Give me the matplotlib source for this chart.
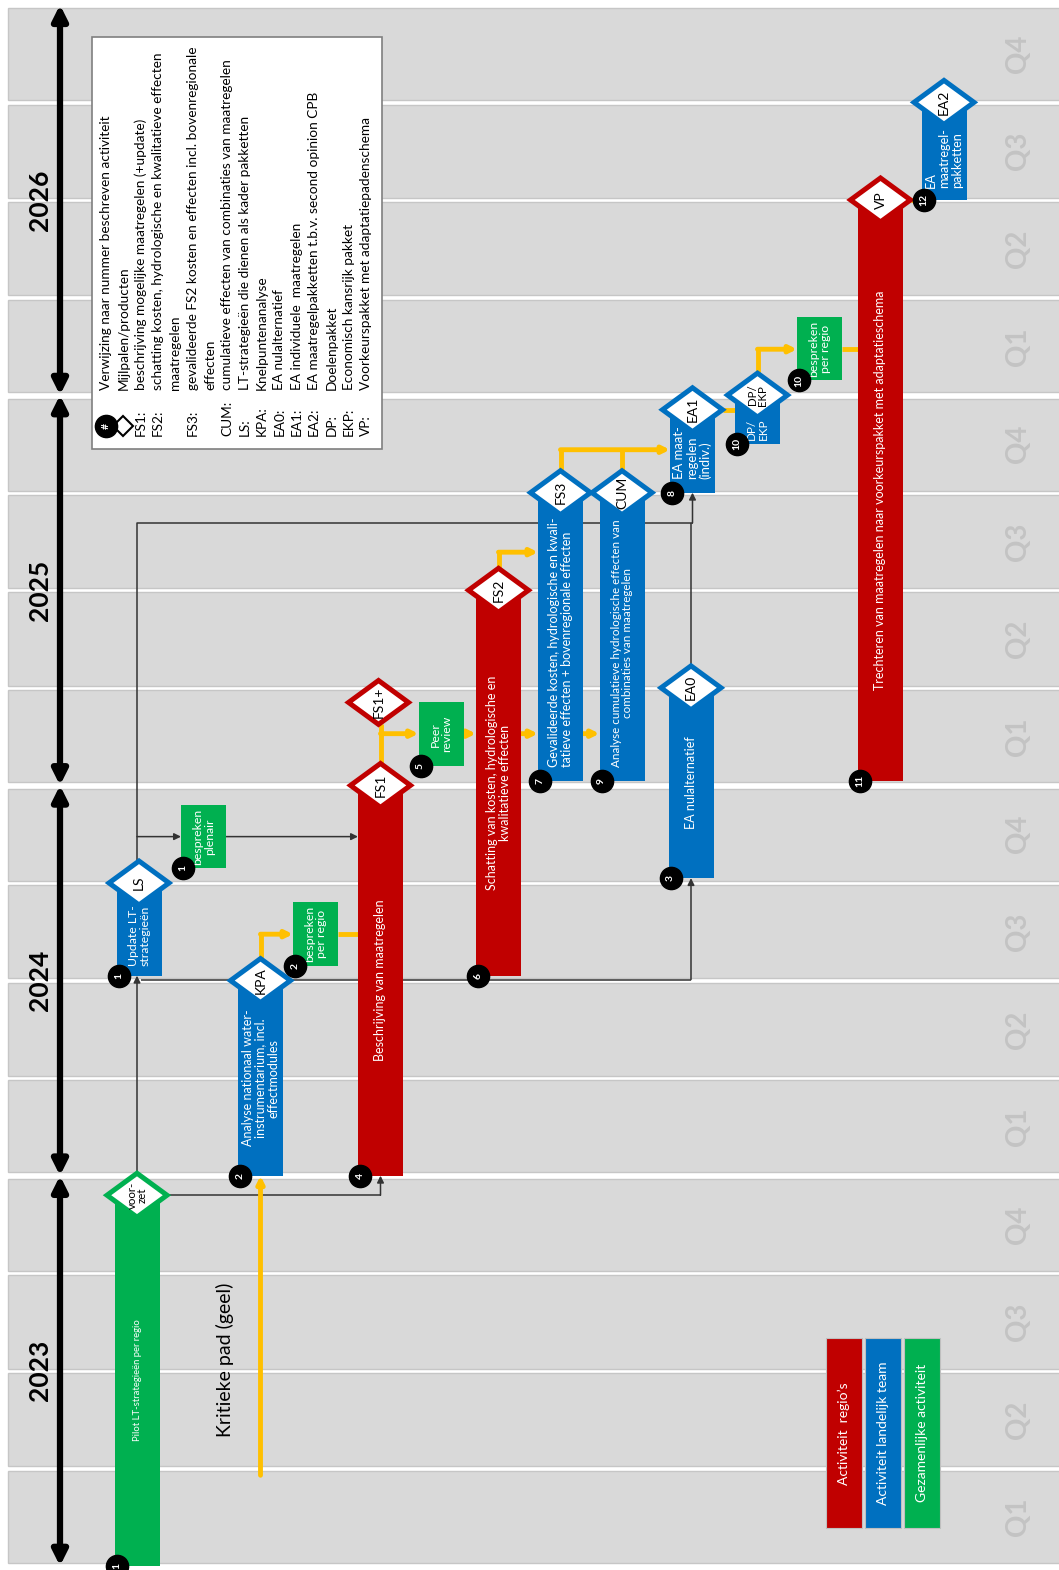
import matplotlib
matplotlib.use('Agg')
import matplotlib.pyplot as plt
from matplotlib.patches import Rectangle, Polygon, FancyArrowPatch

plt.rcParams['font.family'] = ['Lato', 'DejaVu Sans']

# ---- data (time in quarters counted from start of 2023) ----
years = ['2023', '2024', '2025', '2026']
quarters = ['Q1', 'Q2', 'Q3', 'Q4']

labels = ['Pilot LT-strategieën per regio',
          'Update LT-\nstrategieën',
          'bespreken\nplenair',
          'Analyse nationaal water-\ninstrumentarium, incl.\neffectmodules',
          'bespreken\nper regio',
          'Beschrijving van maatregelen',
          'Peer\nreview',
          'Schatting van kosten, hydrologische en\nkwalitatieve effecten',
          'Gevalideerde kosten, hydrologische en kwali-\ntatieve effecten + bovenregionale effecten',
          'Analyse cumulatieve hydrologische effecten van\ncombinaties van maatregelen',
          'EA nulalternatief',
          'EA maat-\nregelen\n(indiv.)',
          'DP/\nEKP',
          'bespreken\nper regio',
          'Trechteren van maatregelen naar voorkeurspakket met adaptatieschema',
          'EA\nmaatregel-\npakketten']
start = [0.0, 6.05, 7.15, 4.0, 6.15, 4.0, 8.2, 6.05, 8.05, 8.05, 7.05, 11.0, 11.5, 12.15, 8.05, 14.0]
end = [3.8, 7.0, 7.8, 6.0, 6.8, 8.0, 8.85, 10.0, 11.0, 11.0, 9.0, 11.85, 12.0, 12.8, 14.0, 15.0]
cat = ['samen', 'land', 'samen', 'land', 'samen', 'regio', 'samen', 'regio',
       'land', 'land', 'land', 'land', 'land', 'samen', 'regio', 'land']
nums = ['1', '1', '1', '2', '2', '4', '5', '6', '7', '9', '3', '8', '10', '10', '11', '12']
miles = ['voor-\nzet', 'LS', None, 'KPA', None, 'FS1', None, 'FS2',
         'FS3', 'CUM', 'EA0', 'EA1', 'DP/\nEKP', None, 'VP', 'EA2']

extra_mile = 'FS1+'
extra_mile_t = 8.85
crit_start = 0.93          # start of the yellow critical path
crit_label = 'Kritieke pad (geel)'

legend_abbr = ['', '', 'FS1:', 'FS2:', '', 'FS3:', '', 'CUM:', 'LS:', 'KPA:',
               'EA0:', 'EA1:', 'EA2:', 'DP:', 'EKP:', 'VP:']
legend_desc = ['Verwijzing naar nummer beschreven activiteit',
               'Mijlpalen/producten',
               'beschrijving mogelijke maatregelen (+update)',
               'schatting kosten, hydrologische en kwalitatieve effecten',
               'maatregelen',
               'gevalideerde FS2 kosten en effecten incl. bovenregionale',
               'effecten',
               'cumulatieve effecten van combinaties van maatregelen',
               'LT-strategieën die dienen als kader pakketten',
               'Knelpuntenanalyse',
               'EA nulalternatief',
               'EA individuele  maatregelen',
               'EA maatregelpakketten t.b.v. second opinion CPB',
               'Doelenpakket',
               'Economisch kansrijk pakket',
               'Voorkeurspakket met adaptatiepadenschema']

cat_keys = ['regio', 'land', 'samen']
cat_names = ['Activiteit  regio\u2019s', 'Activiteit landelijk team', 'Gezamenlijke activiteit']

# ---- layout / style ----
colors = {'regio': '#c00000', 'land': '#0070c0', 'samen': '#00b050'}
YEL = '#ffc000'
lane_x = [137, 139, 203.5, 260.5, 315.5, 380.5, 441, 498.5, 560.5, 622, 691, 692.5,
          757.5, 819.5, 880.5, 944]
text_mode = ['c', 'b', 'c', 'c', 'c', 'c', 'c', 'c', 'b', 'b', 'c', 'b', 'b', 'c', 'c', 'b']
text_size = [6.8, 8.8, 8.8, 9, 8.8, 9, 8.8, 9, 9.0, 8.4, 9, 9.4, 8.4, 8.8, 9, 9.2]
text_pad = [0, 0.1, 0, 0, 0, 0, 0, 0, 0.14, 0.14, 0, 0.14, 0.04, 0, 0, 0.12]
BW = 45
DW, DH = 30, 0.225
T0, T1 = -0.041, 16.049

fig = plt.figure(figsize=(10.59, 15.70), dpi=100)
ax = fig.add_axes([0, 0, 1, 1])
ax.set_xlim(0, 1059)
ax.set_ylim(T0, T1)
ax.axis('off')

# quarter bands
for q in range(16):
    g = 0.035 if q % 4 == 0 else 0.022
    g2 = 0.035 if q % 4 == 3 else 0.022
    ax.add_patch(Rectangle((8, q + g), 1059, 1 - g - g2, fc='#d9d9d9',
                           ec='#c6c6c6', lw=1, zorder=0))
    ax.text(1018, q + 0.5, quarters[q % 4], rotation=90, rotation_mode='anchor',
            ha='center', va='center', fontsize=20, fontweight='bold', color='#c3c3c3')

# year arrows and labels
for i, yr in enumerate(years):
    ax.add_patch(FancyArrowPatch((60, 4 * i), (60, 4 * i + 4), arrowstyle='<|-|>',
                                 mutation_scale=22, lw=4.5, color='black',
                                 shrinkA=0, shrinkB=0, zorder=2))
    ax.text(40, 4 * i + 2, yr, rotation=90, rotation_mode='anchor', ha='center',
            va='center', fontsize=19, fontweight='bold')


def line(pts, color, lw, arrow=True, ms=10):
    xs = [p[0] for p in pts]
    ts = [p[1] for p in pts]
    if arrow:
        ax.plot(xs[:-1], ts[:-1], color=color, lw=lw, solid_capstyle='butt', zorder=1)
        ax.annotate('', xy=pts[-1], xytext=pts[-2],
                    arrowprops=dict(arrowstyle='-|>', color=color, lw=lw,
                                    shrinkA=0, shrinkB=0, mutation_scale=ms),
                    zorder=1)
    else:
        ax.plot(xs, ts, color=color, lw=lw, solid_capstyle='butt', zorder=1)


L = lambda i: lane_x[i] - BW / 2
R = lambda i: lane_x[i] + BW / 2
mid = lambda i: (start[i] + end[i]) / 2
K = '#333333'

# black dependency lines
line([(lane_x[0] + DW, end[0]), (lane_x[5], end[0]), (lane_x[5], start[5])], K, 1.1)
line([(lane_x[0], end[0] + DH), (lane_x[0], start[1])], K, 1.1)
line([(lane_x[0], start[1]), (lane_x[0], 10.69), (lane_x[11], 10.69), (lane_x[11], start[11])], K, 1.1)
line([(lane_x[10], end[10] + DH), (lane_x[10], 10.69)], K, 1.1, arrow=False)
line([(lane_x[0] + 4, 6.01), (lane_x[10], 6.01), (lane_x[10], start[10])], K, 1.1)
line([(lane_x[0], mid(2)), (L(2), mid(2))], K, 1.1)
line([(R(2), mid(2)), (L(5), mid(2))], K, 1.1)

# yellow critical path
YW = 3.5
line([(lane_x[3], crit_start), (lane_x[3], start[3])], YEL, YW)
line([(lane_x[3], end[3] + DH), (lane_x[3], mid(4)), (L(4), mid(4))], YEL, YW)
line([(R(4), mid(4)), (L(5), mid(4))], YEL, YW, arrow=False)
line([(lane_x[5], end[5] + DH), (lane_x[5], extra_mile_t - DH)], YEL, YW, arrow=False)
line([(lane_x[5], 8.53), (L(6), 8.53)], YEL, YW)
line([(R(6), 8.53), (L(7), 8.53)], YEL, YW)
line([(R(7), 8.53), (L(8), 8.53)], YEL, YW)
line([(R(8), 8.53), (L(9), 8.53)], YEL, YW)
line([(lane_x[7], end[7] + DH), (lane_x[7], 10.39), (L(8), 10.39)], YEL, YW)
line([(lane_x[9], end[9] + DH), (lane_x[9], 11.44)], YEL, YW, arrow=False)
line([(lane_x[8], end[8] + DH), (lane_x[8], 11.44), (L(11), 11.44)], YEL, YW)
line([(lane_x[11] + DW, end[11]), (L(12), end[11])], YEL, YW, arrow=False)
line([(lane_x[12], end[12] + DH), (lane_x[12], 12.47), (L(13), 12.47)], YEL, YW)
line([(R(13), 12.47), (L(14), 12.47)], YEL, YW, arrow=False)
line([(lane_x[14] + DW, end[14]), (L(15), end[14])], YEL, YW, arrow=False)

ax.text(225, 2.11, crit_label, rotation=90, rotation_mode='anchor', ha='center',
        va='center', fontsize=14)


def diamond(x, t, txt, color):
    ax.add_patch(Polygon([(x - DW, t), (x, t + DH), (x + DW, t), (x, t - DH)],
                         closed=True, fc='white', ec=color, lw=3.6, zorder=4))
    two = '\n' in txt
    ax.text(x, t, txt, rotation=90, rotation_mode='anchor', ha='center', va='center',
            fontsize=8.3 if two else 10, zorder=5, linespacing=0.9)


def badge(x, t, n):
    ax.plot(x, t, 'o', ms=16, mfc='black', mec='black', zorder=6)
    ax.text(x, t, n, rotation=90, rotation_mode='anchor', ha='center', va='center',
            color='white', fontsize=7.5, fontweight='bold', zorder=7)


# activity bars
for i in range(len(labels)):
    c = colors[cat[i]]
    ax.add_patch(Rectangle((L(i), start[i]), BW, end[i] - start[i], fc=c, ec='none', zorder=3))
    if text_mode[i] == 'c':
        ax.text(lane_x[i], mid(i), labels[i], rotation=90, rotation_mode='anchor',
                ha='center', va='center', multialignment='center', color='white',
                fontsize=text_size[i], zorder=3.5, linespacing=1.1)
    else:
        ax.text(lane_x[i], start[i] + text_pad[i], labels[i], rotation=90,
                rotation_mode='anchor', ha='left', va='center',
                multialignment='center' if i == 9 else 'left', color='white',
                fontsize=text_size[i], zorder=3.5, linespacing=1.1)
    if miles[i]:
        diamond(lane_x[i], end[i], miles[i], c)
    badge(L(i) + 2, start[i], nums[i])

diamond(lane_x[5] - 2, extra_mile_t, extra_mile, colors['regio'])

# abbreviations legend
ax.add_patch(Rectangle((92, (1566 - 449) / 97.575), 290, 412 / 97.575, fc='white',
                       ec='#7f7f7f', lw=1.2, zorder=3))
for i, (a, d) in enumerate(zip(legend_abbr, legend_desc)):
    x = 106 + 17.33 * i
    ax.text(x, 11.58, a, rotation=90, rotation_mode='anchor', ha='left', va='center',
            fontsize=9.8, zorder=4)
    ax.text(x, 12.05, d, rotation=90, rotation_mode='anchor', ha='left', va='center',
            fontsize=9.8, zorder=4)
badge(106, 11.68, '#')
ax.plot(123, 11.68, 'D', ms=10, mfc='white', mec='black', mew=1.5, zorder=5)

# category legend
for j, (k, nm) in enumerate(zip(cat_keys, cat_names)):
    x0 = 826 + 39 * j
    ax.add_patch(Rectangle((x0, 0.39), 36, 1.95, fc=colors[k], ec='#bfbfbf', lw=0.8, zorder=3))
    ax.text(x0 + 18, 1.36, nm, rotation=90, rotation_mode='anchor', ha='center',
            va='center', color='white', fontsize=10, zorder=4)

fig.savefig('out.png', dpi=100)
